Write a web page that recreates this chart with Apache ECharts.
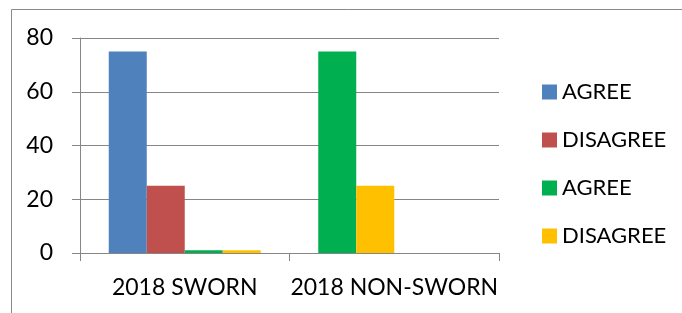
<!DOCTYPE html>
<html>
<head>
<meta charset="utf-8">
<script src="https://cdn.jsdelivr.net/npm/echarts@6/dist/echarts.min.js"></script>
<style>
  html, body { margin: 0; padding: 0; background: #fff; }
  #chart { width: 682px; height: 313px; }
</style>
</head>
<body>
<div id="chart"></div>
<script>
// categories on the x axis
const categories = ['2018 SWORN', '2018 NON-SWORN'];

// values per bar slot (Excel put the non-sworn bars in the first two slots)
const slot1 = [75, 75];   // SWORN agree, NON-SWORN agree
const slot2 = [25, 25];   // SWORN disagree, NON-SWORN disagree
const slot3 = [1, null];  // SWORN: green agree
const slot4 = [1, null];  // SWORN: yellow disagree

const legendLabels = ['AGREE', 'DISAGREE', 'AGREE', 'DISAGREE'];
const colors = ['#4F81BD', '#C0504D', '#00B050', '#FFC000'];
// colours used for the NON-SWORN bars in the first two slots
const nonSwornColors = ['#00B050', '#FFC000'];

const yTicks = { min: 0, max: 80, interval: 20 };

const font = 'Lato, "Open Sans", sans-serif';
const gray = '#868686';

const chart = echarts.init(document.getElementById('chart'));

function slotData(values, altColor) {
  return values.map(function (v, i) {
    if (i === 1 && altColor) {
      return { value: v, itemStyle: { color: altColor } };
    }
    return v;
  });
}

const slots = [
  slotData(slot1, nonSwornColors[0]),
  slotData(slot2, nonSwornColors[1]),
  slotData(slot3),
  slotData(slot4)
];

const seriesNames = ['s1', 's2', 's3', 's4'];

const option = {
  animation: false,
  backgroundColor: '#fff',
  color: colors,
  textStyle: { fontFamily: font },
  graphic: [
    {
      // outer frame: only the left and top edges fall inside the picture
      type: 'polyline',
      shape: { points: [[11.5, 320], [11.5, 9.5], [690, 9.5]] },
      style: { fill: null, stroke: '#898989', lineWidth: 1 },
      silent: true,
      z: -1
    }
  ],
  legend: {
    orient: 'vertical',
    left: 542,
    top: 80,
    padding: 0,
    itemWidth: 15,
    itemHeight: 15,
    itemGap: 24,
    icon: 'rect',
    data: seriesNames,
    formatter: function (name) {
      return legendLabels[seriesNames.indexOf(name)];
    },
    textStyle: { fontSize: 22, color: '#000', fontFamily: font, lineHeight: 24 }
  },
  grid: { left: 80, right: 183, top: 38, bottom: 60 },
  xAxis: {
    type: 'category',
    data: categories,
    axisLine: { lineStyle: { color: gray, width: 1 } },
    axisTick: { show: true, length: 8, lineStyle: { color: gray } },
    axisLabel: { fontSize: 23, color: '#000', margin: 23, interval: 0, fontFamily: font }
  },
  yAxis: {
    type: 'value',
    min: yTicks.min,
    max: yTicks.max,
    interval: yTicks.interval,
    axisLine: { show: true, lineStyle: { color: gray, width: 1 } },
    axisTick: { show: true, length: 8, lineStyle: { color: gray } },
    splitLine: { lineStyle: { color: gray, width: 1 } },
    axisLabel: { fontSize: 23, color: '#000', margin: 27, fontFamily: font }
  },
  series: slots.map(function (d, i) {
    return {
      name: seriesNames[i],
      type: 'bar',
      barWidth: 38,
      barGap: '0%',
      itemStyle: { color: colors[i] },
      data: d
    };
  })
};

chart.setOption(option);
</script>
</body>
</html>
